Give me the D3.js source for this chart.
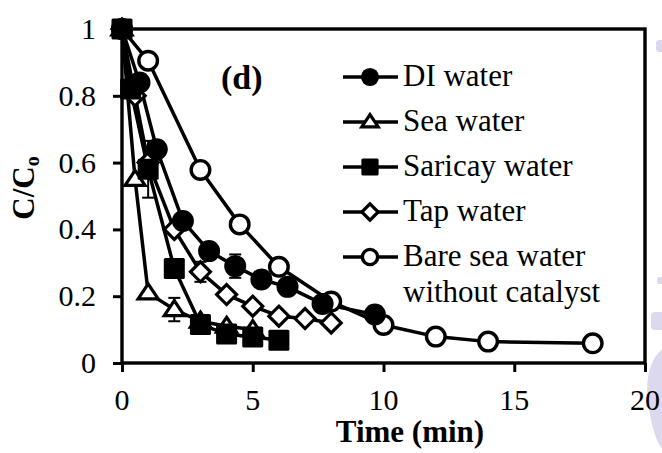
<!DOCTYPE html>
<html>
<head>
<meta charset="utf-8">
<script src="https://cdn.jsdelivr.net/npm/d3@7"></script>
<style>
  html, body { margin: 0; padding: 0; background: #fff; }
  svg { display: block; }
</style>
</head>
<body>
<svg id="chart" width="662" height="453"></svg>
<script>
// Degradation profiles, C/Co versus time (min)
const diTime   = [0, 0.67, 1.33, 2.33, 3.33, 4.33, 5.33, 6.33, 7.67, 9.67];
const diValue  = [1, 0.84, 0.64, 0.425, 0.335, 0.29, 0.25, 0.228, 0.177, 0.145];

const seaTime  = [0, 0.5, 1, 2, 3, 4, 5];
const seaValue = [1, 0.55, 0.21, 0.16, 0.125, 0.11, 0.1];

const sarTime  = [0, 0.33, 1, 2, 3, 4, 5, 6];
const sarValue = [1, 0.82, 0.58, 0.283, 0.115, 0.087, 0.078, 0.068];

const tapTime  = [0, 0.5, 1, 2, 3, 4, 5, 6, 7, 8];
const tapValue = [1, 0.8, 0.6, 0.4, 0.273, 0.205, 0.17, 0.14, 0.133, 0.12];

const bareTime  = [0, 1, 3, 4.5, 6, 8, 10, 12, 14, 18];
const bareValue = [1, 0.905, 0.578, 0.415, 0.288, 0.184, 0.114, 0.079, 0.064, 0.059];

// Error bars: series, time, value, half-width
const errSeries = ["sar", "sea", "tap", "di"];
const errTime   = [1, 2, 3, 4.33];
const errValue  = [0.58, 0.16, 0.273, 0.29];
const errHalf   = [0.085, 0.035, 0.03, 0.035];

const xTicks = [0, 5, 10, 15, 20];
const yTicks = [0, 0.2, 0.4, 0.6, 0.8, 1];

const legendLabels = [["DI water"], ["Sea water"], ["Saricay water"], ["Tap water"], ["Bare sea water", "without catalyst"]];

const series = [
  { key: "bare", t: bareTime, v: bareValue, shape: "openCircle" },
  { key: "tap",  t: tapTime,  v: tapValue,  shape: "diamond" },
  { key: "sea",  t: seaTime,  v: seaValue,  shape: "triangle" },
  { key: "sar",  t: sarTime,  v: sarValue,  shape: "square" },
  { key: "di",   t: diTime,   v: diValue,   shape: "filledCircle" }
];
const legendShapes = ["filledCircle", "triangle", "square", "diamond", "openCircle"];

const FONT = "'Liberation Serif', 'Times New Roman', Times, serif";

const svg = d3.select("#chart");
const plotLeft = 122, plotRight = 645, plotTop = 29, plotBottom = 363;

const x = d3.scaleLinear().domain([0, 20]).range([plotLeft, plotRight]);
const y = d3.scaleLinear().domain([0, 1]).range([plotBottom, plotTop]);

// Faint lavender shapes bleeding in at the right page edge
const edge = svg.append("g").attr("fill", "#dcd9ee");
edge.append("rect").attr("x", 656).attr("y", 40).attr("width", 10).attr("height", 12).attr("rx", 3);
edge.append("rect").attr("x", 657).attr("y", 277).attr("width", 10).attr("height", 7).attr("rx", 2);
edge.append("rect").attr("x", 651).attr("y", 312).attr("width", 14).attr("height", 18).attr("rx", 4);
edge.append("path").attr("d", "M666,347 C650,355 645,380 648,400 C651,425 656,445 666,453 Z");

// Marker drawing; scale k shrinks the legend copies
function drawMarker(g, shape, cx, cy, k = 1) {
  if (shape === "filledCircle") {
    g.append("circle").attr("cx", cx).attr("cy", cy).attr("r", 11 * k).attr("fill", "#000");
  } else if (shape === "openCircle") {
    g.append("circle").attr("cx", cx).attr("cy", cy).attr("r", 9.3 * k)
      .attr("fill", "#fff").attr("stroke", "#000").attr("stroke-width", 3.4);
  } else if (shape === "square") {
    const s = 21 * k;
    g.append("rect").attr("x", cx - s / 2).attr("y", cy - s / 2).attr("width", s).attr("height", s)
      .attr("rx", 1.5).attr("fill", "#000");
  } else if (shape === "triangle") {
    const h = 15 * k, w = 20 * k;
    g.append("path")
      .attr("d", `M${cx},${cy - h * 0.6}L${cx + w / 2},${cy + h * 0.4}L${cx - w / 2},${cy + h * 0.4}Z`)
      .attr("fill", "#fff").attr("stroke", "#000").attr("stroke-width", 3.2);
  } else if (shape === "diamond") {
    const r = 10 * k;
    g.append("path")
      .attr("d", `M${cx},${cy - r}L${cx + r},${cy}L${cx},${cy + r}L${cx - r},${cy}Z`)
      .attr("fill", "#fff").attr("stroke", "#000").attr("stroke-width", 3.2);
  }
}

const line = d3.line().x(d => x(d[0])).y(d => y(d[1]));

// Axes frame
const axisG = svg.append("g");
const xAxis = d3.axisBottom(x).tickValues(xTicks).tickSize(9).tickFormat("");
const yAxis = d3.axisLeft(y).tickValues(yTicks).tickSize(9).tickFormat("");
axisG.append("g").attr("transform", `translate(0,${plotBottom})`).call(xAxis)
  .call(g => g.select(".domain").remove())
  .call(g => g.selectAll("line").attr("stroke", "#000").attr("stroke-width", 3));
axisG.append("g").attr("transform", `translate(${plotLeft},0)`).call(yAxis)
  .call(g => g.select(".domain").remove())
  .call(g => g.selectAll("line").attr("stroke", "#000").attr("stroke-width", 3));
axisG.append("rect").attr("x", plotLeft).attr("y", plotTop)
  .attr("width", plotRight - plotLeft).attr("height", plotBottom - plotTop)
  .attr("fill", "none").attr("stroke", "#000").attr("stroke-width", 3.4);

// Series lines
const plot = svg.append("g");
series.forEach(s => {
  const pts = s.t.map((t, i) => [t, s.v[i]]);
  plot.append("path").datum(pts).attr("d", line)
    .attr("fill", "none").attr("stroke", "#000").attr("stroke-width", 3.5).attr("stroke-linejoin", "round");
});

// Error bars
errSeries.forEach((k, i) => {
  const cx = x(errTime[i]);
  const y1 = y(errValue[i] - errHalf[i]), y2 = y(errValue[i] + errHalf[i]);
  plot.append("line").attr("x1", cx).attr("x2", cx).attr("y1", y1).attr("y2", y2)
    .attr("stroke", "#000").attr("stroke-width", 2);
  [y1, y2].forEach(yy => plot.append("line").attr("x1", cx - 6).attr("x2", cx + 6).attr("y1", yy).attr("y2", yy)
    .attr("stroke", "#000").attr("stroke-width", 2));
});

// Series markers
series.forEach(s => {
  const g = plot.append("g");
  s.t.forEach((t, i) => drawMarker(g, s.shape, x(t), y(s.v[i])));
});

// Tick labels
svg.append("g").selectAll("text").data(yTicks).join("text")
  .attr("font-family", FONT)
  .attr("x", 96).attr("y", d => y(d) + 10)
  .attr("text-anchor", "end").attr("font-size", 30)
  .text(d => d3.format("~g")(d));
svg.append("g").selectAll("text").data(xTicks).join("text")
  .attr("font-family", FONT)
  .attr("x", d => x(d)).attr("y", 410)
  .attr("text-anchor", "middle").attr("font-size", 30)
  .text(d => d);

// Axis titles
svg.append("text").attr("font-family", FONT).attr("x", 410).attr("y", 442).attr("text-anchor", "middle")
  .attr("font-size", 31).attr("font-weight", "bold").text("Time (min)");
const yt = svg.append("text").attr("font-family", FONT).attr("transform", "translate(34,188) rotate(-90)")
  .attr("text-anchor", "middle").attr("font-size", 31).attr("font-weight", "bold");
yt.append("tspan").text("C/C");
yt.append("tspan").attr("font-size", 20).attr("dy", 5).text("o");

// Panel label
svg.append("text").attr("font-family", FONT).attr("x", 221).attr("y", 89)
  .attr("font-size", 34).attr("font-weight", "bold").text("(d)");

// Legend
const leg = svg.append("g");
const legY = [77, 122, 167, 212, 257];
legendLabels.forEach((lines, i) => {
  const cy = legY[i];
  leg.append("line").attr("x1", 343).attr("x2", 398).attr("y1", cy).attr("y2", cy)
    .attr("stroke", "#000").attr("stroke-width", 3.5);
  drawMarker(leg, legendShapes[i], 370, cy, 0.82);
  lines.forEach((txt, j) => {
    leg.append("text").attr("font-family", FONT).attr("x", 403).attr("y", cy + 9 + j * 36)
      .attr("font-size", 31).text(txt);
  });
});
</script>
</body>
</html>
